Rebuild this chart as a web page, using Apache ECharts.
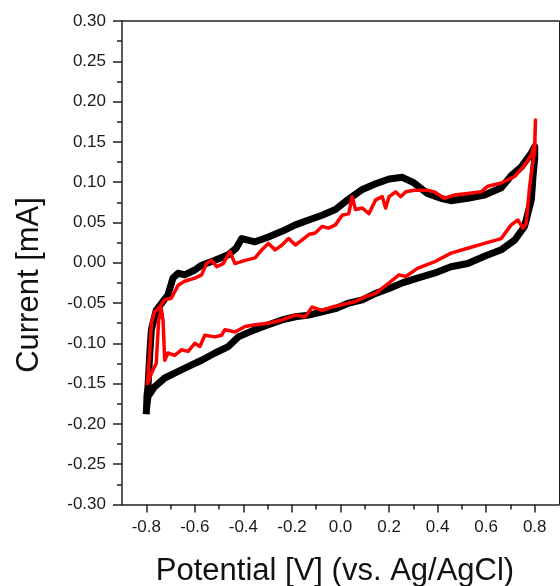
<!DOCTYPE html>
<html>
<head>
<meta charset="utf-8">
<script src="https://cdn.jsdelivr.net/npm/echarts@6/dist/echarts.min.js"></script>
<style>
html,body{margin:0;padding:0;background:#fff;}
#c{width:560px;height:586px;}
</style>
</head>
<body>
<div id="c"></div>
<script>
// ---- data ----
var xMajorTicks = [-0.8,-0.6,-0.4,-0.2,0.0,0.2,0.4,0.6,0.8];
var xMinorTicks = [-0.7,-0.5,-0.3,-0.1,0.1,0.3,0.5,0.7];

// black trace (noisy), anodic then cathodic branch
var blackV = [-0.800,-0.797,-0.793,-0.786,-0.779,-0.759,-0.731,-0.711,-0.690,-0.669,-0.642,-0.600,-0.572,-0.517,-0.462,-0.430,-0.407,-0.352,-0.297,-0.241,-0.186,-0.131,-0.076,-0.021,0.034,0.090,0.145,0.200,0.255,0.303,0.358,0.413,0.455,0.524,0.593,0.662,0.703,0.745,0.786,0.800,
              0.800,0.793,0.786,0.758,0.717,0.662,0.593,0.524,0.455,0.386,0.317,0.255,0.200,0.145,0.090,0.034,-0.021,-0.076,-0.131,-0.186,-0.241,-0.297,-0.352,-0.421,-0.462,-0.517,-0.572,-0.628,-0.683,-0.724,-0.766,-0.793,-0.800];
var blackI = [-0.188,-0.165,-0.154,-0.115,-0.083,-0.059,-0.048,-0.040,-0.019,-0.013,-0.015,-0.009,-0.003,0.003,0.010,0.018,0.030,0.026,0.032,0.039,0.047,0.053,0.059,0.066,0.079,0.091,0.098,0.104,0.106,0.099,0.086,0.080,0.077,0.080,0.084,0.093,0.108,0.119,0.136,0.144,
              0.130,0.107,0.078,0.045,0.028,0.016,0.008,-0.001,-0.005,-0.013,-0.019,-0.025,-0.032,-0.038,-0.046,-0.050,-0.057,-0.061,-0.065,-0.067,-0.071,-0.077,-0.083,-0.092,-0.104,-0.112,-0.121,-0.129,-0.137,-0.143,-0.154,-0.166,-0.183];

// red trace
var redV = [-0.796,-0.786,-0.779,-0.766,-0.745,-0.724,-0.697,-0.669,-0.642,-0.600,-0.572,-0.552,-0.531,-0.510,-0.483,-0.455,-0.435,-0.393,-0.352,-0.324,-0.297,-0.269,-0.241,-0.214,-0.186,-0.159,-0.131,-0.104,-0.076,-0.049,-0.021,0.007,0.034,0.048,0.062,0.090,0.117,0.145,0.172,0.186,0.200,0.227,0.248,0.269,0.303,0.358,0.386,0.427,0.469,0.524,0.579,0.607,0.662,0.717,0.758,0.786,0.800,0.803,
            0.800,0.779,0.765,0.751,0.731,0.703,0.662,0.593,0.524,0.455,0.386,0.317,0.269,0.241,0.200,0.145,0.103,0.062,0.007,-0.035,-0.076,-0.117,-0.145,-0.186,-0.241,-0.297,-0.352,-0.393,-0.435,-0.476,-0.490,-0.517,-0.559,-0.579,-0.600,-0.628,-0.655,-0.683,-0.711,-0.724,-0.731,-0.738,-0.749,-0.759,-0.779,-0.793];
var redI = [-0.152,-0.112,-0.075,-0.061,-0.055,-0.046,-0.044,-0.028,-0.023,-0.019,-0.015,-0.001,0.003,-0.005,-0.001,0.014,-0.001,0.003,0.006,0.016,0.024,0.016,0.022,0.030,0.022,0.028,0.035,0.037,0.045,0.043,0.047,0.059,0.061,0.082,0.066,0.068,0.061,0.078,0.082,0.068,0.082,0.088,0.082,0.088,0.090,0.090,0.088,0.080,0.084,0.086,0.088,0.095,0.099,0.107,0.121,0.134,0.148,0.177,
            0.140,0.095,0.049,0.043,0.053,0.047,0.030,0.024,0.018,0.012,0.001,-0.007,-0.017,-0.015,-0.025,-0.038,-0.042,-0.048,-0.052,-0.055,-0.059,-0.055,-0.067,-0.065,-0.071,-0.075,-0.077,-0.079,-0.086,-0.083,-0.090,-0.092,-0.090,-0.104,-0.100,-0.110,-0.108,-0.115,-0.112,-0.121,-0.071,-0.057,-0.071,-0.125,-0.137,-0.150];

function zip(a,b){var o=[];for(var i=0;i<a.length;i++)o.push([a[i],b[i]]);return o;}

var axisColor = '#222';
var font = 'Liberation Sans, Arial, sans-serif';

var chart = echarts.init(document.getElementById('c'), null, {renderer:'canvas'});
chart.setOption({
  animation:false,
  backgroundColor:'#fff',
  grid:{left:122, right:1, top:21, bottom:81.5, containLabel:false},
  xAxis:[
    {type:'value', min:-0.9, max:0.9, position:'bottom',
     axisLine:{show:true, onZero:false, lineStyle:{color:axisColor, width:1.5}},
     axisTick:{show:true, inside:false, length:8, customValues:xMajorTicks, lineStyle:{color:axisColor, width:1.5}},
     axisLabel:{show:true, customValues:xMajorTicks, margin:14, color:'#1a1a1a', fontSize:17, fontFamily:font,
       formatter:function(v){return Math.abs(v)<1e-9?'0.0':v.toFixed(1);}},
     splitLine:{show:false}},
    {type:'value', min:-0.9, max:0.9, position:'bottom',
     axisLine:{show:false, onZero:false},
     axisTick:{show:true, inside:false, length:5, customValues:xMinorTicks, lineStyle:{color:axisColor, width:1.5}},
     axisLabel:{show:false}, splitLine:{show:false}},
    {type:'value', min:-0.9, max:0.9, position:'top',
     axisLine:{show:true, onZero:false, lineStyle:{color:axisColor, width:1.5}},
     axisTick:{show:false}, axisLabel:{show:false}, splitLine:{show:false}}
  ],
  yAxis:[
    {type:'value', min:-0.3, max:0.3, interval:0.05, position:'left',
     axisLine:{show:true, onZero:false, lineStyle:{color:axisColor, width:1.5}},
     axisTick:{show:true, inside:false, length:9, lineStyle:{color:axisColor, width:1.5}},
     minorTick:{show:true, splitNumber:2, length:5, lineStyle:{color:axisColor, width:1.5}},
     axisLabel:{show:true, margin:16, color:'#1a1a1a', fontSize:17, fontFamily:font,
       formatter:function(v){return Math.abs(v)<1e-9?'0.00':v.toFixed(2);}},
     splitLine:{show:false}, minorSplitLine:{show:false}},
    {type:'value', min:-0.3, max:0.3, position:'right',
     axisLine:{show:true, onZero:false, lineStyle:{color:axisColor, width:1}},
     axisTick:{show:false}, axisLabel:{show:false}, splitLine:{show:false}}
  ],
  graphic:[
    {type:'text', x:29, y:285, rotation:Math.PI/2,
     style:{text:'Current [mA]', font:'31px Liberation Sans, Arial, sans-serif', fill:'#111', textAlign:'center', textVerticalAlign:'middle'}},
    {type:'text', x:335, y:571,
     style:{text:'Potential [V] (vs. Ag/AgCl)', font:'31px Liberation Sans, Arial, sans-serif', fill:'#111', textAlign:'center', textVerticalAlign:'middle'}}
  ],
  series:[
    {type:'line', name:'black', xAxisIndex:0, yAxisIndex:0, data:zip(blackV,blackI), showSymbol:false, symbol:'none',
     lineStyle:{color:'#000', width:7, join:'round'}, z:2},
    {type:'line', name:'red', xAxisIndex:0, yAxisIndex:0, data:zip(redV,redI), showSymbol:false, symbol:'none',
     lineStyle:{color:'#ff0000', width:3.5, join:'round'}, z:3}
  ]
});
</script>
</body>
</html>
